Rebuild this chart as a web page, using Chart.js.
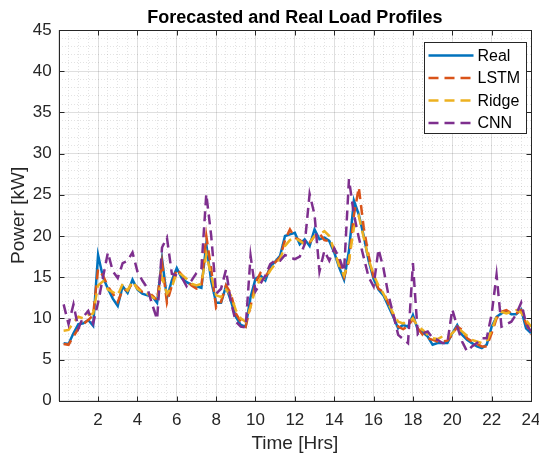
<!DOCTYPE html>
<html>
<head>
<meta charset="utf-8">
<title>Forecasted and Real Load Profiles</title>
<script src="https://cdn.jsdelivr.net/npm/chart.js@4.4.1/dist/chart.umd.min.js"></script>
<style>
  html, body { margin: 0; padding: 0; background: #fff; }
</style>
</head>
<body>
<canvas id="loadChart" width="539" height="457"></canvas>
<script>
// 15-minute time stamps (hours)
const timeHrs = [
  0.25, 0.5, 0.75, 1, 1.25, 1.5, 1.75, 2, 2.25, 2.5, 2.75, 3,
  3.25, 3.5, 3.75, 4, 4.25, 4.5, 4.75, 5, 5.25, 5.5, 5.75, 6,
  6.25, 6.5, 6.75, 7, 7.25, 7.5, 7.75, 8, 8.25, 8.5, 8.75, 9,
  9.25, 9.5, 9.75, 10, 10.25, 10.5, 10.75, 11, 11.25, 11.5, 11.75, 12,
  12.25, 12.5, 12.75, 13, 13.25, 13.5, 13.75, 14, 14.25, 14.5, 14.75, 15,
  15.25, 15.5, 15.75, 16, 16.25, 16.5, 16.75, 17, 17.25, 17.5, 17.75, 18,
  18.25, 18.5, 18.75, 19, 19.25, 19.5, 19.75, 20, 20.25, 20.5, 20.75, 21,
  21.25, 21.5, 21.75, 22, 22.25, 22.5, 22.75, 23, 23.25, 23.5, 23.75, 24
];

const realKw = [
  7.0, 6.9, 8.2, 9.3, 9.4, 9.8, 9.1, 17.7, 15.0, 13.6, 12.4, 11.5,
  13.9, 13.1, 14.7, 13.5, 13.0, 12.8, 12.7, 11.9, 17.2, 12.5, 14.6, 16.1,
  14.9, 14.4, 14.1, 13.9, 13.7, 19.0, 14.5, 11.9, 11.9, 13.9, 12.1, 10.2,
  9.2, 9.0, 12.6, 14.8, 15.2, 14.6, 16.3, 16.9, 17.6, 20.0, 20.2, 20.4,
  19.0, 19.6, 18.8, 20.8, 19.6, 19.8, 19.4, 18.0, 16.2, 14.7, 18.2, 24.3,
  22.6, 20.0, 17.0, 14.8, 13.5, 12.8, 11.5, 10.2, 8.8, 9.2, 9.0, 10.4,
  8.6, 8.3, 7.8, 6.8, 7.0, 7.0, 7.0, 8.2, 9.2, 8.0, 7.4, 7.0,
  6.6, 6.4, 6.8, 9.0, 10.2, 10.6, 10.9, 10.5, 10.5, 11.1, 8.8, 8.2
];

const lstmKw = [
  6.9, 6.8, 7.8, 8.8, 9.3, 9.8, 10.4, 16.0, 15.2, 13.9, 13.0, 12.0,
  13.5, 13.4, 14.3, 13.8, 13.2, 13.0, 12.8, 12.2, 16.8, 11.9, 14.0, 16.0,
  15.3, 14.6, 14.0, 13.6, 13.8, 20.0, 16.0, 11.3, 12.0, 14.0, 13.0, 10.6,
  9.6, 9.0, 11.5, 14.3, 15.5, 15.0, 16.0, 16.8, 17.4, 19.5, 20.8, 19.8,
  19.5, 19.0, 19.2, 20.0, 20.3, 19.5, 19.4, 18.5, 16.8, 15.0, 17.0, 22.5,
  25.9, 21.0, 17.6, 15.0, 13.6, 13.2, 11.8, 10.4, 9.0, 8.7, 9.0, 10.0,
  8.8, 8.0, 7.6, 7.4, 7.2, 7.2, 7.3, 8.0, 9.0, 8.6, 7.6, 7.2,
  6.9, 6.6, 6.6, 8.2, 10.0, 10.8, 11.0, 10.6, 10.6, 11.0, 9.4, 8.0
];

const ridgeKw = [
  8.5, 8.6, 9.5, 10.2, 10.0, 10.4, 10.6, 14.0, 14.5, 13.5, 13.2, 12.8,
  14.2, 13.4, 14.5, 13.6, 13.2, 13.0, 12.6, 12.2, 15.0, 13.0, 13.8, 15.6,
  15.3, 14.8, 14.2, 14.0, 14.2, 17.8, 15.2, 12.8, 12.6, 13.5, 12.8, 11.0,
  10.0, 9.6, 11.4, 13.6, 14.8, 14.8, 15.8, 16.6, 17.2, 18.8, 19.5, 19.8,
  19.4, 19.0, 19.2, 20.0, 20.2, 20.6, 20.0, 18.2, 16.4, 15.2, 17.0, 21.0,
  22.4, 19.8, 17.2, 15.3, 14.0, 13.0, 11.8, 10.6, 9.6, 9.4, 9.5, 10.0,
  9.0, 8.6, 8.0, 7.6, 7.5, 7.8, 7.6, 8.2, 8.8, 8.4, 7.9, 7.4,
  7.2, 7.0, 7.2, 8.6, 10.2, 10.8, 10.6, 10.8, 11.0, 10.7, 9.8, 9.0
];

const cnnKw = [
  11.7, 9.3, 11.7, 8.8, 10.2, 10.9, 9.4, 11.9, 15.0, 18.0, 15.7, 14.9,
  16.7, 17.0, 18.0, 15.7, 14.6, 13.7, 11.7, 9.9, 18.6, 19.8, 15.4, 15.2,
  15.0, 13.9, 14.6, 15.5, 16.0, 25.1, 20.0, 13.0, 13.6, 15.9, 12.0, 9.6,
  9.0, 8.9, 17.6, 13.3, 14.2, 15.2, 16.6, 17.0, 17.0, 17.7, 17.4, 17.2,
  17.5, 19.0, 25.1, 22.6, 15.7, 18.2, 17.0, 18.5, 17.4, 15.7, 26.9, 22.6,
  19.8, 17.4, 15.0, 13.9, 18.4, 16.1, 12.9, 10.5, 8.0, 7.5, 7.0, 16.7,
  8.0, 8.2, 8.4, 7.6, 7.4, 7.0, 7.0, 11.1, 9.0, 7.2, 6.0, 6.6,
  7.0, 7.6, 7.6, 10.5, 15.3, 9.0, 9.3, 9.6, 10.5, 11.9, 9.4, 8.4
];

const seriesNames = ['Real', 'LSTM', 'Ridge', 'CNN'];
const seriesColors = ['#0072BD', '#D95319', '#EDB120', '#7E2F8E'];
const chartTitle = 'Forecasted and Real Load Profiles';

const FONT = "'Liberation Sans', Arial, Helvetica, sans-serif";
const AXIS_COLOR = '#262626';
const DASH = [10, 6];

const toPoints = (vals) => timeHrs.map((t, i) => ({ x: t, y: vals[i] }));

const isMajorX = (v) => Math.abs(v / 2 - Math.round(v / 2)) < 1e-9;
const isMajorY = (v) => Math.abs(v / 5 - Math.round(v / 5)) < 1e-9;

// MATLAB style box, inward tick marks, title over the axes and an inset legend
const matlabAxes = {
    id: 'matlabAxes',
    afterDraw(chart) {
        const { ctx, chartArea: ca, scales } = chart;
        const left = Math.round(ca.left) + 0.5;
        const right = Math.round(ca.right) + 0.5;
        const top = Math.round(ca.top) + 0.5;
        const bottom = Math.round(ca.bottom) + 0.5;

        ctx.save();
        ctx.strokeStyle = AXIS_COLOR;
        ctx.lineWidth = 1;
        ctx.setLineDash([]);
        ctx.strokeRect(left, top, right - left, bottom - top);

        ctx.beginPath();
        scales.x.ticks.forEach((t) => {
            if (!isMajorX(t.value)) return;
            const px = Math.round(scales.x.getPixelForValue(t.value)) + 0.5;
            ctx.moveTo(px, bottom); ctx.lineTo(px, bottom - 5);
            ctx.moveTo(px, top); ctx.lineTo(px, top + 5);
        });
        scales.y.ticks.forEach((t) => {
            if (!isMajorY(t.value)) return;
            const py = Math.round(scales.y.getPixelForValue(t.value)) + 0.5;
            ctx.moveTo(left, py); ctx.lineTo(left + 5, py);
            ctx.moveTo(right, py); ctx.lineTo(right - 5, py);
        });
        ctx.stroke();

        // title, centred on the axes
        ctx.fillStyle = '#000';
        ctx.font = 'bold 18px ' + FONT;
        ctx.textAlign = 'center';
        ctx.textBaseline = 'alphabetic';
        ctx.fillText(chartTitle, (ca.left + ca.right) / 2, ca.top - 7);

        // legend
        const boxW = 102, boxH = 91;
        const x0 = Math.round(ca.right - 107) + 0.5;
        const y0 = Math.round(ca.top + 12) + 0.5;
        ctx.fillStyle = '#fff';
        ctx.fillRect(x0, y0, boxW, boxH);
        ctx.strokeStyle = AXIS_COLOR;
        ctx.lineWidth = 1;
        ctx.strokeRect(x0, y0, boxW, boxH);

        ctx.font = '16px ' + FONT;
        ctx.textBaseline = 'middle';
        ctx.textAlign = 'left';
        chart.data.datasets.forEach((ds, i) => {
            const y = y0 + 13 + i * 22.5;
            ctx.strokeStyle = ds.borderColor;
            ctx.lineWidth = 2.5;
            ctx.setLineDash(ds.borderDash || []);
            ctx.beginPath();
            ctx.moveTo(x0 + 4, y);
            ctx.lineTo(x0 + 49, y);
            ctx.stroke();
            ctx.setLineDash([]);
            ctx.fillStyle = '#000';
            ctx.fillText(ds.label, x0 + 53, y + 1);
        });
        ctx.restore();
    }
};

document.addEventListener('DOMContentLoaded', () => {
    const canvas = document.getElementById('loadChart');
    const allSeries = [realKw, lstmKw, ridgeKw, cnnKw];

    new Chart(canvas, {
        type: 'line',
        data: {
            datasets: allSeries.map((vals, i) => ({
                label: seriesNames[i],
                data: toPoints(vals),
                borderColor: seriesColors[i],
                backgroundColor: seriesColors[i],
                borderWidth: 2.5,
                borderDash: i === 0 ? [] : DASH,
                pointRadius: 0,
                tension: 0,
                fill: false,
                order: allSeries.length - i,
            })),
        },
        options: {
            responsive: false,
            devicePixelRatio: 1,
            animation: false,
            layout: {
                padding: { top: 30, right: 0, bottom: 0, left: 0 },
            },
            plugins: {
                legend: { display: false },
                tooltip: { enabled: false },
                title: { display: false },
            },
            scales: {
                x: {
                    type: 'linear',
                    min: 0,
                    max: 24,
                    afterFit: (scale) => { scale.paddingRight = 8; },
                    ticks: {
                        stepSize: 0.5,
                        autoSkip: false,
                        maxRotation: 0,
                        padding: 9,
                        color: AXIS_COLOR,
                        font: { family: FONT, size: 17 },
                        callback: (v) => (v > 0 && isMajorX(v) ? String(v) : ''),
                    },
                    grid: {
                        drawTicks: false,
                        tickLength: 0,
                        color: (c) => (c.tick && isMajorX(c.tick.value) ? 'rgba(38,38,38,0.15)' : 'rgba(38,38,38,0.13)'),
                    },
                    border: {
                        display: false,
                        dash: (c) => (c.tick && !isMajorX(c.tick.value) ? [1, 2] : []),
                    },
                    title: {
                        display: true,
                        text: 'Time [Hrs]',
                        color: AXIS_COLOR,
                        font: { family: FONT, size: 19 },
                        padding: { top: -7, bottom: 2 },
                    },
                },
                y: {
                    min: 0,
                    max: 45,
                    ticks: {
                        stepSize: 1,
                        autoSkip: false,
                        padding: 7,
                        color: AXIS_COLOR,
                        font: { family: FONT, size: 17 },
                        callback: (v) => (isMajorY(v) ? String(v) : ''),
                    },
                    grid: {
                        drawTicks: false,
                        tickLength: 0,
                        color: (c) => (c.tick && isMajorY(c.tick.value) ? 'rgba(38,38,38,0.15)' : 'rgba(38,38,38,0.13)'),
                    },
                    border: {
                        display: false,
                        dash: (c) => (c.tick && !isMajorY(c.tick.value) ? [1, 2] : []),
                    },
                    title: {
                        display: true,
                        text: 'Power [kW]',
                        color: AXIS_COLOR,
                        font: { family: FONT, size: 19 },
                        padding: { top: 7, bottom: -4 },
                    },
                },
            },
        },
        plugins: [matlabAxes],
    });
});
</script>
</body>
</html>
